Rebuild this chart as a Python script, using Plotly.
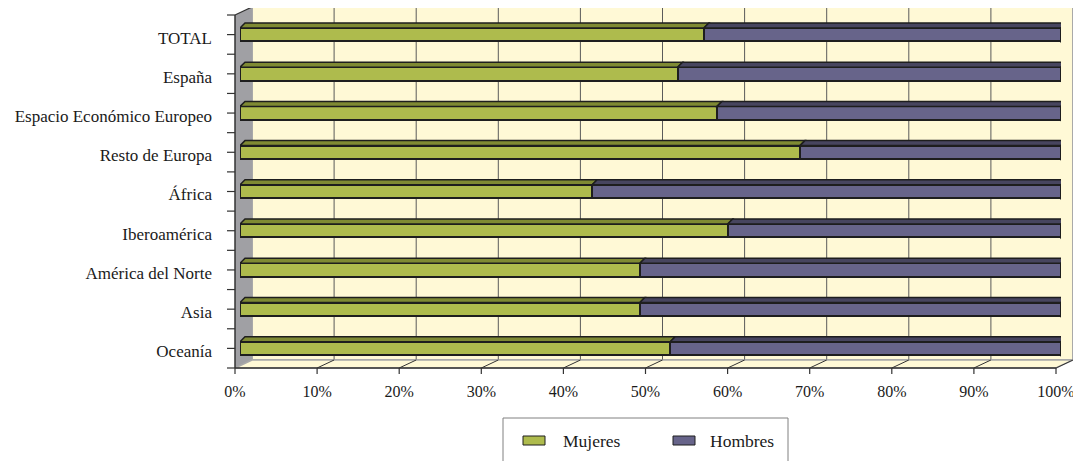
import plotly.graph_objects as go

# ---------------- data ----------------
categories = ["TOTAL", "España", "Espacio Económico Europeo", "Resto de Europa",
              "África", "Iberoamérica", "América del Norte", "Asia", "Oceanía"]
mujeres = [56.5, 53.3, 58.1, 68.2, 42.9, 59.4, 48.7, 48.7, 52.4]
hombres = [43.5, 46.7, 41.9, 31.8, 57.1, 40.6, 51.3, 51.3, 47.6]
series_names = ["Mujeres", "Hombres"]
x_ticks = [0, 10, 20, 30, 40, 50, 60, 70, 80, 90, 100]
x_ticklabels = [f"{t}%" for t in x_ticks]

# ---------------- style ----------------
OFF = 8                      # page body margin
W, H = 1081 - OFF, 461 - OFF
GREEN, GREEN_D = "#AEBB4D", "#7F8A33"
PURPLE, PURPLE_D = "#67648A", "#47455F"
EDGE = "#1E1E1E"
WALL = "#FFF9D6"
SIDE = "#A0A0A4"
RIM = "#A9A9A9"
FONT = "Liberation Serif, Times New Roman, serif"
TXT = "#1A1A1A"

AX0 = 235          # front axis 0 % (window px)
SC = 8.21          # px per percent
BAR_DX = 5         # bars sit slightly behind the front plane
WDX, WDY = 17, 8   # depth of the back wall
TOP, BOT = 15, 368 # front plane top / bottom (window px)

def px(x):
    return (x - OFF) / W

def py(y):
    return 1 - (y - OFF) / H

n = len(categories)
ypos = list(range(n))
BAR_W = 0.34
unit_px = (BOT - TOP) / n
dy = 5 / unit_px
dx = 5 / SC

fig = go.Figure()
fig.add_trace(go.Bar(y=ypos, x=mujeres, orientation="h", name=series_names[0],
                     width=BAR_W, marker=dict(color=GREEN, line=dict(color=EDGE, width=2)),
                     showlegend=False))
fig.add_trace(go.Bar(y=ypos, x=hombres, orientation="h", name=series_names[1],
                     width=BAR_W, marker=dict(color=PURPLE, line=dict(color=EDGE, width=2)),
                     showlegend=False))

shapes = []
# back wall
shapes.append(dict(type="rect", xref="paper", yref="paper",
                   x0=px(AX0 + WDX), x1=px(AX0 + WDX + 100 * SC),
                   y0=py(BOT - WDY), y1=py(TOP - WDY),
                   fillcolor=WALL, line=dict(color=RIM, width=2), layer="below"))
# gridlines on back wall
for t in x_ticks[1:-1]:
    xx = px(AX0 + WDX + SC * t)
    shapes.append(dict(type="line", xref="paper", yref="paper", x0=xx, x1=xx,
                       y0=py(BOT - WDY), y1=py(TOP - WDY),
                       line=dict(color="#5A5A5A", width=1), layer="below"))
# side wall
shapes.append(dict(type="path", xref="paper", yref="paper",
                   path=f"M {px(AX0)},{py(TOP)} L {px(AX0+WDX)},{py(TOP-WDY)} "
                        f"L {px(AX0+WDX)},{py(BOT-WDY)} L {px(AX0)},{py(BOT)} Z",
                   fillcolor=SIDE, line=dict(width=0), layer="below"))
# floor
shapes.append(dict(type="path", xref="paper", yref="paper",
                   path=f"M {px(AX0)},{py(BOT)} L {px(AX0+WDX)},{py(BOT-WDY)} "
                        f"L {px(AX0+WDX+100*SC)},{py(BOT-WDY)} L {px(AX0+100*SC)},{py(BOT)} Z",
                   fillcolor=WALL, line=dict(color=RIM, width=1.5), layer="below"))
# floor diagonals + bottom ticks
for t in x_ticks:
    x_f = AX0 + SC * t
    if t > 0:
        shapes.append(dict(type="line", xref="paper", yref="paper",
                           x0=px(x_f), x1=px(x_f + WDX), y0=py(BOT), y1=py(BOT - WDY),
                           line=dict(color="#333333", width=1), layer="below"))
    shapes.append(dict(type="line", xref="paper", yref="paper",
                       x0=px(x_f), x1=px(x_f), y0=py(BOT), y1=py(BOT + 6),
                       line=dict(color="#333333", width=1.2), layer="below"))
# front axis lines
shapes.append(dict(type="line", xref="paper", yref="paper",
                   x0=px(AX0), x1=px(AX0 + 100 * SC), y0=py(BOT), y1=py(BOT),
                   line=dict(color="#333333", width=1.5), layer="below"))
shapes.append(dict(type="line", xref="paper", yref="paper",
                   x0=px(AX0), x1=px(AX0), y0=py(TOP), y1=py(BOT),
                   line=dict(color="#333333", width=1.5), layer="below"))
shapes.append(dict(type="line", xref="paper", yref="paper",
                   x0=px(AX0), x1=px(AX0 + WDX), y0=py(TOP), y1=py(TOP - WDY),
                   line=dict(color="#333333", width=1.2), layer="below"))
for k in range(2 * n + 1):
    yy = TOP + (BOT - TOP) * k / (2 * n)
    shapes.append(dict(type="line", xref="paper", yref="paper",
                       x0=px(AX0 - 8), x1=px(AX0), y0=py(yy), y1=py(yy),
                       line=dict(color="#333333", width=1.2), layer="below"))

# 3D top faces and end faces of bars
for i in range(n):
    segs = [(0, mujeres[i], GREEN_D), (mujeres[i], mujeres[i] + hombres[i], PURPLE_D)]
    top = i - BAR_W / 2
    bot = i + BAR_W / 2
    for a, b, col in segs:
        shapes.append(dict(type="path", xref="x", yref="y",
                           path=f"M {a},{top} L {a+dx},{top-dy} L {b+dx},{top-dy} L {b},{top} Z",
                           fillcolor=col, line=dict(color=EDGE, width=1.5), layer="above"))
    b = mujeres[i] + hombres[i]
    shapes.append(dict(type="path", xref="x", yref="y",
                       path=f"M {b},{top} L {b+dx},{top-dy} L {b+dx},{bot-dy} L {b},{bot} Z",
                       fillcolor=PURPLE_D, line=dict(color=EDGE, width=1.5), layer="above"))

# legend (box, swatches, labels)
shapes.append(dict(type="rect", xref="paper", yref="paper",
                   x0=px(503), x1=px(788), y0=py(463), y1=py(418),
                   fillcolor="white", line=dict(color="#808080", width=1), layer="below"))
annotations = []
for name, col, sx, tx in [(series_names[0], GREEN, 523, 561), (series_names[1], PURPLE, 673, 708)]:
    shapes.append(dict(type="rect", xref="paper", yref="paper",
                       x0=px(sx), x1=px(sx + 22), y0=py(445), y1=py(436),
                       fillcolor=col, line=dict(color=EDGE, width=1)))
    annotations.append(dict(xref="paper", yref="paper", x=px(tx), y=py(441),
                            xanchor="left", yanchor="middle", text=name, showarrow=False,
                            font=dict(family=FONT, size=17.5, color=TXT)))

fig.update_layout(
    width=W, height=H,
    barmode="stack",
    bargap=0.6,
    paper_bgcolor="white",
    plot_bgcolor="rgba(0,0,0,0)",
    margin=dict(l=0, r=0, t=0, b=0),
    shapes=shapes,
    annotations=annotations,
    xaxis=dict(domain=[px(AX0 + BAR_DX), px(AX0 + BAR_DX + 100 * SC)],
               range=[0, 100], tickvals=x_ticks, ticktext=x_ticklabels,
               showgrid=False, zeroline=False, showline=False, ticks="",
               ticklabelshift=-BAR_DX, ticklabelstandoff=12,
               tickfont=dict(family=FONT, size=16, color=TXT), automargin=False),
    yaxis=dict(domain=[py(BOT), py(TOP)], range=[n - 0.5, -0.5],
               tickvals=ypos, ticktext=categories,
               showgrid=False, zeroline=False, showline=False, ticks="",
               ticklabelstandoff=27, ticklabelshift=-3,
               tickfont=dict(family=FONT, size=17, color=TXT), automargin=False),
)

fig.write_html("out.html")
